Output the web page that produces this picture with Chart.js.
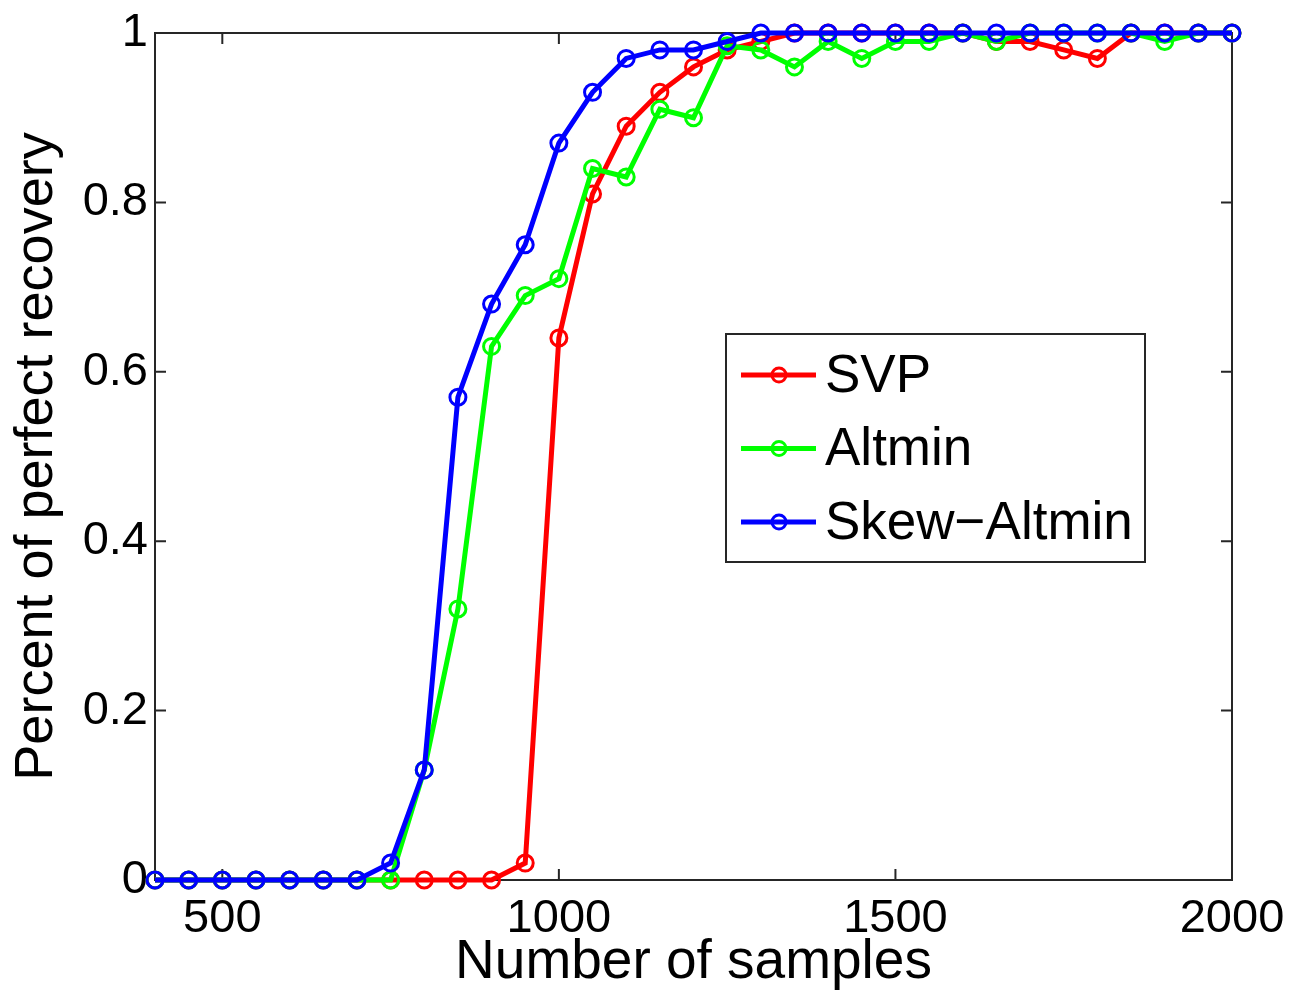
<!DOCTYPE html>
<html>
<head>
<meta charset="utf-8">
<script src="https://cdn.jsdelivr.net/npm/chart.js@4/dist/chart.umd.min.js"></script>
<style>
html, body { margin: 0; padding: 0; background: #fff; }
</style>
</head>
<body>
<canvas id="chart" width="1291" height="993"></canvas>
<script>
const samples = [400, 450, 500, 550, 600, 650, 700, 750, 800, 850, 900, 950, 1000, 1050, 1100, 1150,
	1200, 1250, 1300, 1350, 1400, 1450, 1500, 1550, 1600, 1650, 1700, 1750, 1800, 1850, 1900, 1950, 2000];
const svp = [0, 0, 0, 0, 0, 0, 0, 0, 0, 0, 0, 0.02, 0.64, 0.81, 0.89, 0.93,
	0.96, 0.98, 0.99, 1, 1, 1, 1, 1, 1, 0.99, 0.99, 0.98, 0.97, 1, 1, 1, 1];
const altmin = [0, 0, 0, 0, 0, 0, 0, 0, 0.13, 0.32, 0.63, 0.69, 0.71, 0.84, 0.83, 0.91,
	0.90, 0.985, 0.98, 0.96, 0.99, 0.97, 0.99, 0.99, 1, 0.99, 1, 1, 1, 1, 0.99, 1, 1];
const skewAltmin = [0, 0, 0, 0, 0, 0, 0, 0.02, 0.13, 0.57, 0.68, 0.75, 0.87, 0.93, 0.97, 0.98,
	0.98, 0.99, 1, 1, 1, 1, 1, 1, 1, 1, 1, 1, 1, 1, 1, 1, 1];
const seriesNames = ['SVP', 'Altmin', 'Skew\u2212Altmin'];
const xTicks = [500, 1000, 1500, 2000];
const yTicks = [0, 0.2, 0.4, 0.6, 0.8, 1];
const yTickLabels = ['0', '0.2', '0.4', '0.6', '0.8', '1'];

const FONT = '"Liberation Sans", Arial, Helvetica, sans-serif';
const axisColor = '#262626';
const tickLen = 11;

function toPoints(values) {
	return values.map((v, i) => ({ x: samples[i], y: v }));
}

function lineDataset(label, values, color, order) {
	return {
		label: label,
		data: toPoints(values),
		borderColor: color,
		backgroundColor: 'rgba(0,0,0,0)',
		borderWidth: 5,
		pointRadius: 8,
		pointBorderWidth: 3,
		pointBorderColor: color,
		pointBackgroundColor: 'rgba(0,0,0,0)',
		pointStyle: 'circle',
		tension: 0,
		clip: false,
		order: order,
	};
}

// box around the axes with inward ticks on all four sides
const framePlugin = {
	id: 'frame',
	beforeDatasetsDraw(chart) {
		const ctx = chart.ctx;
		const a = chart.chartArea;
		const xs = chart.scales.x;
		const ys = chart.scales.y;
		ctx.save();
		ctx.strokeStyle = axisColor;
		ctx.lineWidth = 2;
		ctx.strokeRect(a.left, a.top, a.right - a.left, a.bottom - a.top);
		ctx.beginPath();
		xTicks.forEach(v => {
			const px = xs.getPixelForValue(v);
			ctx.moveTo(px, a.bottom); ctx.lineTo(px, a.bottom - tickLen);
			ctx.moveTo(px, a.top); ctx.lineTo(px, a.top + tickLen);
		});
		yTicks.forEach(v => {
			const py = ys.getPixelForValue(v);
			ctx.moveTo(a.left, py); ctx.lineTo(a.left + tickLen, py);
			ctx.moveTo(a.right, py); ctx.lineTo(a.right - tickLen, py);
		});
		ctx.stroke();
		ctx.restore();
	}
};

const legendPlugin = {
	id: 'boxLegend',
	afterDatasetsDraw(chart) {
		const ctx = chart.ctx;
		const a = chart.chartArea;
		const x0 = a.left + 571, y0 = a.top + 301, w = 419, h = 228;
		ctx.save();
		ctx.fillStyle = '#fff';
		ctx.fillRect(x0, y0, w, h);
		ctx.strokeStyle = axisColor;
		ctx.lineWidth = 2;
		ctx.strokeRect(x0, y0, w, h);
		ctx.font = '53px ' + FONT;
		ctx.textBaseline = 'middle';
		ctx.fillStyle = '#000';
		chart.data.datasets.forEach((ds, i) => {
			const cy = y0 + 41 + i * 73.5;
			ctx.strokeStyle = ds.borderColor;
			ctx.lineWidth = 5;
			ctx.beginPath();
			ctx.moveTo(x0 + 15, cy); ctx.lineTo(x0 + 90, cy);
			ctx.stroke();
			ctx.lineWidth = 3;
			ctx.beginPath();
			ctx.arc(x0 + 53, cy, 7, 0, Math.PI * 2);
			ctx.stroke();
			ctx.fillText(ds.label, x0 + 99, cy + 2);
		});
		ctx.restore();
	}
};

const config = {
	type: 'line',
	data: {
		datasets: [
			lineDataset(seriesNames[0], svp, '#ff0000', 3),
			lineDataset(seriesNames[1], altmin, '#00ff00', 2),
			lineDataset(seriesNames[2], skewAltmin, '#0000ff', 1),
		]
	},
	options: {
		responsive: false,
		animation: false,
		devicePixelRatio: 1,
		layout: { padding: { top: 33, right: 59, left: 0, bottom: 0 } },
		plugins: {
			legend: { display: false },
			tooltip: { enabled: false },
		},
		scales: {
			x: {
				type: 'linear',
				min: 400,
				max: 2000,
				afterBuildTicks: s => { s.ticks = xTicks.map(v => ({ value: v })); },
				afterFit: s => { s.height = 113; s.paddingLeft = 0; s.paddingRight = 0; },
				grid: { display: false, drawTicks: false },
				border: { display: false },
				ticks: {
					color: '#000',
					font: { family: FONT, size: 47 },
					padding: 11,
					maxRotation: 0,
					callback: v => String(v),
				},
				title: {
					display: true,
					text: 'Number of samples',
					color: '#000',
					font: { family: FONT, size: 55, lineHeight: 1 },
					padding: { top: 0, bottom: 3 },
				},
			},
			y: {
				min: 0,
				max: 1,
				afterBuildTicks: s => { s.ticks = yTicks.map(v => ({ value: v })); },
				afterFit: s => { s.width = 155; s.paddingTop = 0; s.paddingBottom = 0; },
				grid: { display: false, drawTicks: false },
				border: { display: false },
				ticks: {
					color: '#000',
					font: { family: FONT, size: 47 },
					padding: 7,
					callback: (v, i) => yTickLabels[i],
				},
				title: {
					display: true,
					text: 'Percent of perfect recovery',
					color: '#000',
					font: { family: FONT, size: 54, lineHeight: 1 },
					padding: { top: 10, bottom: 0 },
				},
			},
		},
	},
	plugins: [framePlugin, legendPlugin],
};

const chart = new Chart(document.getElementById('chart'), config);
</script>
</body>
</html>
